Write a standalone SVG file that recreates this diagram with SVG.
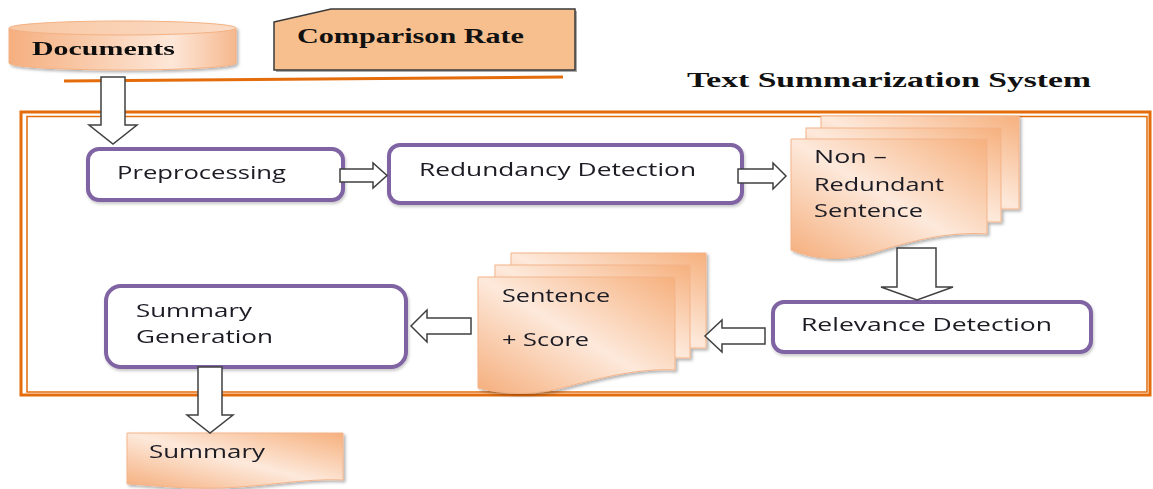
<svg xmlns="http://www.w3.org/2000/svg" width="1153" height="489" viewBox="0 0 1153 489">
<defs>
<linearGradient id="pageGrad" x1="1" y1="0" x2="0" y2="1">
<stop offset="0" stop-color="#F6B07D"/>
<stop offset="0.5" stop-color="#FDE9DB"/>
<stop offset="1" stop-color="#F5AE7C"/>
</linearGradient>
<linearGradient id="cylGrad" x1="0" y1="0" x2="1" y2="0">
<stop offset="0" stop-color="#F5AF7F"/>
<stop offset="0.72" stop-color="#FDE7D8"/>
<stop offset="1" stop-color="#F6B88E"/>
</linearGradient>
<linearGradient id="cylTop" x1="0" y1="0" x2="1" y2="0">
<stop offset="0" stop-color="#F8C7A3"/>
<stop offset="1" stop-color="#FBDCC6"/>
</linearGradient>
<filter id="shadow" x="-10%" y="-10%" width="130%" height="130%">
<feDropShadow dx="2" dy="2" stdDeviation="1.5" flood-color="#000" flood-opacity="0.3"/>
</filter>
<filter id="softShadow" x="-5%" y="-10%" width="115%" height="130%">
<feDropShadow dx="1" dy="2" stdDeviation="1.5" flood-color="#000" flood-opacity="0.22"/>
</filter>
</defs>
<style>
.serif{font-family:"Liberation Serif","Times New Roman",serif;font-weight:bold;fill:#111;}
.sans{font-family:"Open Sans","Noto Sans","DejaVu Sans",sans-serif;font-size:18px;fill:#1a1a24;}
.proc{fill:#fff;stroke:#8064A2;stroke-width:4;}
.page{fill:url(#pageGrad);stroke:#F4B48A;stroke-width:1;}
.barrow{fill:#fff;stroke:#404040;stroke-width:1.5;stroke-linejoin:miter;}
.orange{fill:none;stroke:#E46C0A;}
</style>
<rect width="1153" height="489" fill="#fff"/>

<!-- system border -->
<g id="system-border">
<rect class="orange" x="21" y="112" width="1129" height="283" stroke-width="3"/>
<rect class="orange" x="27" y="116.5" width="1120" height="275.5" stroke-width="1.5"/>
<text class="serif" x="687" y="87" font-size="22" textLength="404" lengthAdjust="spacingAndGlyphs">Text Summarization System</text>
</g>

<line id="separator" class="orange" x1="64" y1="81" x2="563" y2="77" stroke-width="3"/>

<g id="documents" filter="url(#shadow)">
<path d="M9,28 L9,63 A113.5,7 0 0 0 236,63 L236,28 Z" fill="url(#cylGrad)" stroke="#F4B183" stroke-width="1"/>
<ellipse cx="122.5" cy="28" rx="113.5" ry="7" fill="url(#cylTop)" stroke="#F4B183" stroke-width="1"/>
<text class="serif" x="32" y="55" font-size="19.5" textLength="143" lengthAdjust="spacingAndGlyphs">Documents</text>
</g>

<g id="comparison-rate">
<polygon points="276,24 333,11 577,11 577,72 276,72" fill="#555" opacity="0.5"/>
<polygon points="274,22 331,9 575,9 575,70 274,70" fill="#F8BF8E" stroke="#3a3a3a" stroke-width="1.5"/>
<text class="serif" x="297" y="43" font-size="20" textLength="227" lengthAdjust="spacingAndGlyphs">Comparison Rate</text>
</g>

<g id="preprocessing" filter="url(#softShadow)">
<rect class="proc" x="88" y="149" width="255" height="51" rx="11"/>
<text class="sans" x="117" y="179" textLength="169" lengthAdjust="spacingAndGlyphs">Preprocessing</text>
</g>

<g id="redundancy-detection" filter="url(#softShadow)">
<rect class="proc" x="389" y="145" width="353" height="58" rx="11"/>
<text class="sans" x="419" y="176" textLength="277" lengthAdjust="spacingAndGlyphs">Redundancy Detection</text>
</g>

<g id="non-redundant-sentence" filter="url(#shadow)">
<rect class="page" x="821" y="116" width="198" height="93"/>
<rect class="page" x="806" y="128" width="195" height="94"/>
<path class="page" d="M791,139 H987 V234 C945,231 905,243 872,253 C842,262 812,259 791,250 Z"/>
<text class="sans" x="814" y="163" font-size="17" textLength="73" lengthAdjust="spacingAndGlyphs">Non –</text>
<text class="sans" x="814" y="191" font-size="17" textLength="130" lengthAdjust="spacingAndGlyphs">Redundant</text>
<text class="sans" x="814" y="217" font-size="17" textLength="109" lengthAdjust="spacingAndGlyphs">Sentence</text>
</g>

<g id="relevance-detection" filter="url(#softShadow)">
<rect class="proc" x="773" y="302" width="318" height="50" rx="11"/>
<text class="sans" x="801" y="331" textLength="251" lengthAdjust="spacingAndGlyphs">Relevance Detection</text>
</g>

<g id="sentence-score" filter="url(#shadow)">
<rect class="page" x="511" y="253" width="195" height="95"/>
<rect class="page" x="495" y="265" width="195" height="93"/>
<path class="page" d="M478,277 H675 V370 C638,368 600,378 562,388 C532,396 502,394 478,388 Z"/>
<text class="sans" x="502" y="302" font-size="17" textLength="108" lengthAdjust="spacingAndGlyphs">Sentence</text>
<text class="sans" x="502" y="346" font-size="17" textLength="87" lengthAdjust="spacingAndGlyphs">+ Score</text>
</g>

<g id="summary-generation" filter="url(#softShadow)">
<rect class="proc" x="106" y="286" width="300" height="81" rx="15"/>
<text class="sans" x="136" y="317" textLength="116" lengthAdjust="spacingAndGlyphs">Summary</text>
<text class="sans" x="136" y="343" textLength="137" lengthAdjust="spacingAndGlyphs">Generation</text>
</g>

<g id="summary" filter="url(#shadow)">
<path class="page" d="M127,433 H343 V480 C305,478 262,487 220,488 C180,489 150,485 127,484 Z"/>
<text class="sans" x="149" y="458" textLength="116" lengthAdjust="spacingAndGlyphs">Summary</text>
</g>

<g id="connectors">
<polygon class="barrow" points="101,77 125,77 125,125 137,125 113,144 89,125 101,125"/>
<polygon class="barrow" points="340,169 373,169 373,163 387,175.5 373,188 373,182 340,182"/>
<polygon class="barrow" points="738,169 773,169 773,163 786,176 773,189 773,183 738,183"/>
<polygon class="barrow" points="897,248 936,248 936,287 953,287 917,300 881,287 897,287"/>
<polygon class="barrow" points="765,328 722,328 722,320 705,336 722,352 722,344 765,344"/>
<polygon class="barrow" points="471,318 427,318 427,310 411,326 427,342 427,334 471,334"/>
<polygon class="barrow" points="198,367 222,367 222,415 233,415 210,433 187,415 198,415"/>
</g>
</svg>
